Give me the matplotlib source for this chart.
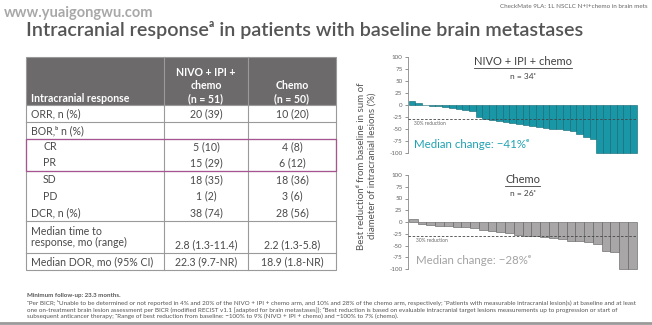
import numpy as np
import matplotlib
matplotlib.use('Agg')
import matplotlib.pyplot as plt
from matplotlib.patches import Rectangle

# ---- data ----
row_labels = ['ORR, n (%)', 'BOR,\u1d47 n (%)', 'CR', 'PR', 'SD', 'PD', 'DCR, n (%)',
              'Median time to\nresponse, mo (range)', 'Median DOR, mo (95% CI)']
indented = [False, False, True, True, True, True, False, False, False]
nivo_vals = ['20 (39)', '', '5 (10)', '15 (29)', '18 (35)', '1 (2)', '38 (74)', '2.8 (1.3-11.4)', '22.3 (9.7-NR)']
chemo_vals = ['10 (20)', '', '4 (8)', '6 (12)', '18 (36)', '3 (6)', '28 (56)', '2.2 (1.3-5.8)', '18.9 (1.8-NR)']

nivo_change = [9, 4, 1, -2, -3, -5, -6, -8, -10, -12, -25, -30, -32, -34, -36, -38, -40, -42,
               -44, -46, -48, -49, -51, -53, -55, -60, -66, -70, -100, -100, -100, -100, -100, -100]
chemo_change = [7, -5, -7, -8, -9, -10, -11, -12, -17, -20, -22, -24, -27, -29, -29, -31, -34,
                -37, -40, -41, -42, -46, -62, -64, -100, -100]
yticks = [100, 75, 50, 25, 0, -25, -50, -75, -100]
reduction_line = -30

plt.rcParams['font.family'] = ['Lato', 'DejaVu Sans']
W, H = 652, 325
fig = plt.figure(figsize=(W / 100, H / 100), dpi=100)
ax0 = fig.add_axes([0, 0, 1, 1])
ax0.set_xlim(0, W); ax0.set_ylim(H, 0); ax0.axis('off')

dark = '#4a4a4a'
fs = 7.6
# header / watermark
ax0.text(4, 13, 'www.yuaigongwu.com', fontsize=10.5, color='#a8a8a8', fontweight='bold', va='center')
ax0.text(648, 6, 'CheckMate 9LA: 1L NSCLC N+I+chemo in brain mets', fontsize=4.5, color='#666666', ha='right', va='center')
ax0.text(26, 30, 'Intracranial response\u1d43 in patients with baseline brain metastases', fontsize=14.2,
         color='#555555', fontweight='semibold', va='center')

# ---- table ----
x0, x1, x2, x3 = 26, 164, 248, 336
hy0, hy1 = 57, 105
bounds = [105, 122, 139, 155, 171, 188, 204, 221, 253, 270]
hdr = '#6d6a6c'; grid = '#9a9a9a'; purple = '#a6558f'
ax0.add_patch(Rectangle((x0, hy0), x3 - x0, hy1 - hy0, facecolor=hdr, edgecolor=grid, lw=0.8))
ax0.add_patch(Rectangle((x0, hy1), x3 - x0, bounds[-1] - hy1, facecolor='white', edgecolor=grid, lw=0.8))
for xv in (x1, x2):
    ax0.plot([xv, xv], [hy0, hy1], color='#9c9a9b', lw=0.8)
    ax0.plot([xv, xv], [hy1, bounds[-1]], color=grid, lw=0.8)
for yv in (122, 139, 171, 221, 253):
    ax0.plot([x0, x3], [yv, yv], color=grid, lw=0.8)
ax0.add_patch(Rectangle((x0, 139), x3 - x0, 171 - 139, facecolor='none', edgecolor=purple, lw=0.9, zorder=3))

ax0.text(31, 98, 'Intracranial response', color='white', fontsize=fs, fontweight='bold', va='center')
ax0.text((x1 + x2) / 2, 85.5, 'NIVO + IPI +\nchemo\n(n = 51)', color='white', fontsize=fs, fontweight='bold',
         ha='center', va='center', linespacing=1.2)
ax0.text((x2 + x3) / 2, 92, 'Chemo\n(n = 50)', color='white', fontsize=fs, fontweight='bold',
         ha='center', va='center', linespacing=1.2)
for i, lab in enumerate(row_labels):
    top, bot = bounds[i], bounds[i + 1]
    yc = (top + bot) / 2
    ax0.text(43 if indented[i] else 31, yc, lab, color=dark, fontsize=fs, va='center', linespacing=1.0)
    yv = bot - 8 if '\n' in lab else yc
    ax0.text((x1 + x2) / 2, yv, nivo_vals[i], color=dark, fontsize=fs, ha='center', va='center')
    ax0.text((x2 + x3) / 2, yv, chemo_vals[i], color=dark, fontsize=fs, ha='center', va='center')

# ---- waterfalls ----
def waterfall(rect, vals, face, edge, med_col, title, ntxt, median):
    ax = fig.add_axes(rect)
    n = len(vals)
    ax.bar(np.arange(n), vals, width=1.0, color=face, edgecolor=edge, lw=0.4, clip_on=False)
    ax.axhline(reduction_line, color='#444444', lw=0.6, ls=(0, (3, 2)), zorder=3)
    ax.set_xlim(-0.6, n - 0.45)
    ax.set_ylim(-100, 100)
    ax.set_yticks(yticks)
    ax.set_yticklabels([str(v) for v in yticks])
    ax.tick_params(axis='y', labelsize=4.5, colors='#666666', length=2.5, width=0.5, pad=1.5)
    ax.set_xticks([])
    for s in ('top', 'right', 'bottom'):
        ax.spines[s].set_visible(False)
    ax.spines['left'].set_color('#888888'); ax.spines['left'].set_linewidth(0.6)
    ax.patch.set_alpha(0)
    ax.text(0.3, reduction_line - 4, '30% reduction', fontsize=3.5, color='#666666', va='top')
    ax.text(0.3, -82, 'Median change: ' + median + '\u1d49', fontsize=8.3, color=med_col, va='center')
    t = ax.text(0.5, 0.95, title, fontsize=8.0, color='#404040', ha='center', va='center', transform=ax.transAxes)
    ax.text(0.5, 0.80, ntxt, fontsize=6.0, color='#404040', ha='center', va='center', transform=ax.transAxes)
    return ax, t

axA, tA = waterfall([408 / W, 1 - 153 / H, 229 / W, 96 / H], nivo_change, '#1a97a6', '#0e6470', '#1fa3b3',
                    'NIVO + IPI + chemo', 'n = 34\u1d9c', '\u221241%')
axB, tB = waterfall([408 / W, 1 - 269 / H, 229 / W, 94 / H], chemo_change, '#a9a6a8', '#5a5a5a', '#a3a3a3',
                    'Chemo', 'n = 26\u1d9c', '\u221228%')

# underline the arm titles
fig.canvas.draw()
r = fig.canvas.get_renderer()
for t in (tA, tB):
    bb = t.get_window_extent(r)
    ax0.plot([bb.x0, bb.x1], [H - bb.y0 + 0.5, H - bb.y0 + 0.5], color='#404040', lw=0.6)

ax0.text(367, 166, 'Best reduction\u1d48 from baseline in sum of\ndiameter of intracranial lesions (%)',
         fontsize=7.0, color='#555555', rotation=90, ha='center', va='center', linespacing=1.15)

# ---- footnotes ----
ax0.text(27, 296, 'Minimum follow-up: 23.3 months.', fontsize=4.4, color='#555555', fontweight='bold', va='center')
notes = ['\u1d43Per BICR; \u1d47Unable to be determined or not reported in 4% and 20% of the NIVO + IPI + chemo arm, and 10% and 28% of the chemo arm, respectively; \u1d9cPatients with measurable intracranial lesion(s) at baseline and at least',
         'one on-treatment brain lesion assessment per BICR (modified RECIST v1.1 [adapted for brain metastases]); \u1d48Best reduction is based on evaluable intracranial target lesions measurements up to progression or start of',
         'subsequent anticancer therapy; \u1d49Range of best reduction from baseline: \u2212100% to 9% (NIVO + IPI + chemo) and \u2212100% to 7% (chemo).']
for k, line in enumerate(notes):
    ax0.text(27, 303.5 + 6.5 * k, line, fontsize=4.5, color='#555555', va='center')
ax0.plot([0, W], [322.5, 322.5], color='#9a9a9a', lw=2)

fig.savefig('out.png', dpi=100)
